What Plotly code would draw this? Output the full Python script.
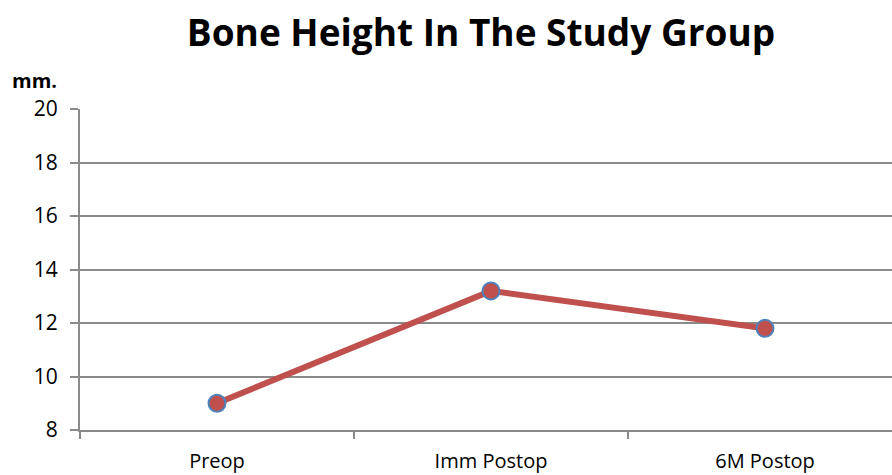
import plotly.graph_objects as go

categories = ["Preop", "Imm Postop", "6M Postop"]
bone_height = [9.0, 13.2, 11.8]
y_ticks = [8, 10, 12, 14, 16, 18, 20]

RED = "#C0504D"
BLUE = "#4F81BD"
GRID = "#8A8A8A"
FONT = "Open Sans, Liberation Sans, sans-serif"

L, T, W, H = 80, 109, 892, 475
PLOT_W = W - L
PLOT_H = 321

fig = go.Figure()
fig.add_trace(go.Scatter(
    x=categories, y=bone_height, mode="lines+markers",
    line=dict(color=RED, width=6),
    marker=dict(color=RED, size=17, line=dict(color=BLUE, width=2)),
    showlegend=False, cliponaxis=False,
))

fig.update_layout(
    width=W, height=H,
    margin=dict(l=L, r=0, t=T, b=H - T - PLOT_H),
    paper_bgcolor="white", plot_bgcolor="white",
    font=dict(family=FONT, color="black", size=20),
    title=dict(text="<b>Bone Height In The Study Group</b>",
               x=481 / W, xanchor="center", xref="container",
               y=1 - 33 / H, yanchor="middle", yref="container",
               font=dict(size=37, family=FONT, color="black")),
)
fig.add_annotation(text="<b>mm.</b>", xref="paper", yref="paper",
                   x=(34 - L) / PLOT_W, y=(T + PLOT_H - 80) / PLOT_H,
                   xanchor="center", yanchor="middle", showarrow=False,
                   font=dict(size=20, family=FONT, color="black"))

fig.update_xaxes(
    type="category", categoryorder="array", categoryarray=categories,
    range=[-0.5, -0.5 + PLOT_W / 274],
    showline=True, linecolor=GRID, linewidth=2,
    showgrid=False, tickson="boundaries", ticks="outside", ticklen=7,
    tickcolor=GRID, tickwidth=2, ticklabelstandoff=12,
)
fig.update_yaxes(
    range=[8, 20], tickvals=y_ticks, ticktext=[str(v) for v in y_ticks],
    showline=True, linecolor=GRID, linewidth=2,
    showgrid=True, gridcolor=GRID, gridwidth=1.5,
    ticks="outside", ticklen=8, tickcolor=GRID, tickwidth=2,
    zeroline=False, ticklabelstandoff=8, tickfont=dict(size=21),
)

fig.write_html(
    "out.html",
    config={"displayModeBar": False},
    post_script="document.body.style.margin='0';document.body.style.overflow='hidden';",
)
